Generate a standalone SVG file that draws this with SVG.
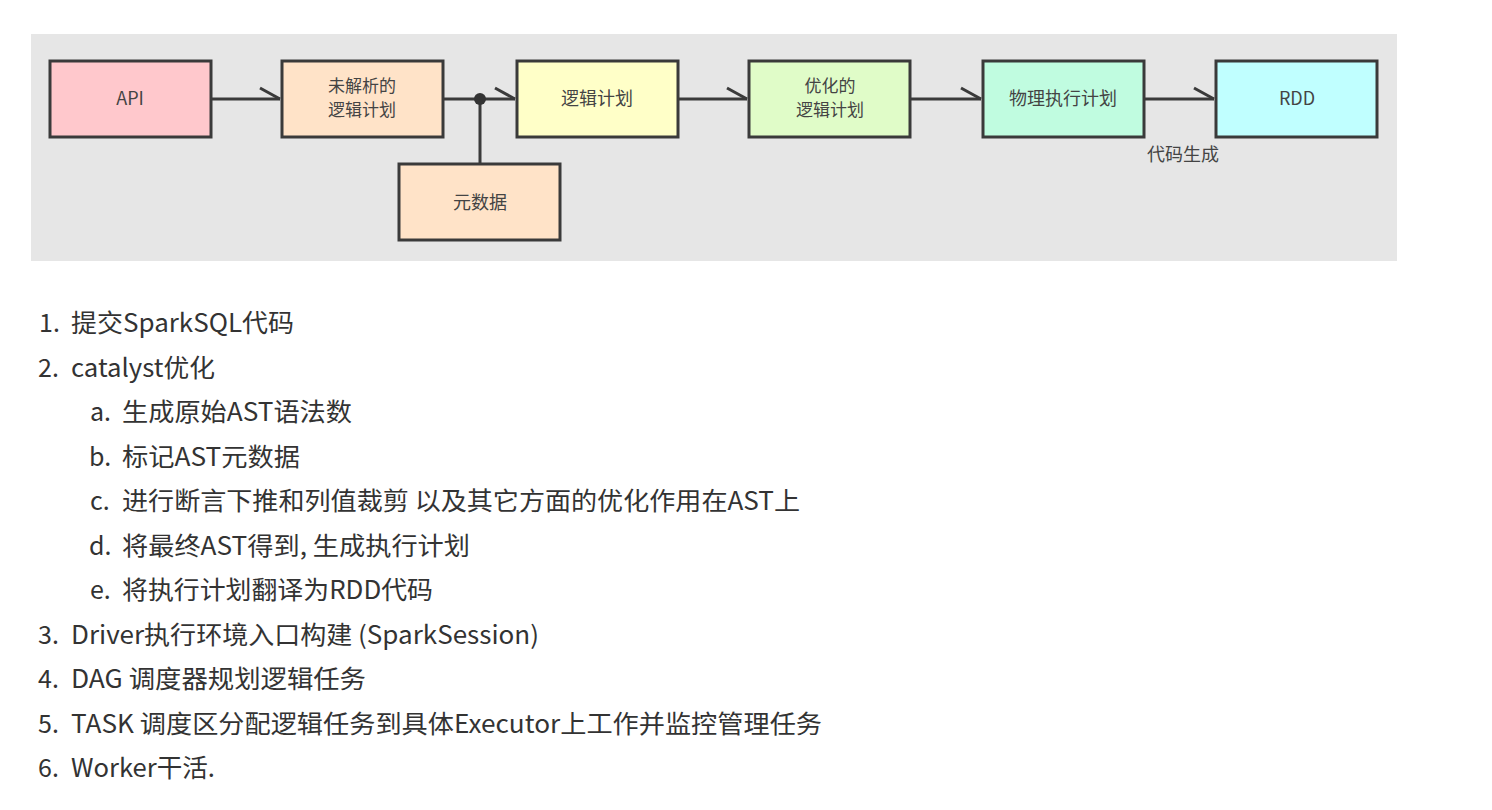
<svg xmlns="http://www.w3.org/2000/svg" width="1492" height="810" viewBox="0 0 1492 810">
<style>
.box{stroke:#3a3a3a;stroke-width:3}
.bl{font-family:"Noto Sans CJK SC","Noto Sans",sans-serif;font-size:18px;fill:#444;text-anchor:middle}
.b2{font-size:17px}
.ln{stroke:#3a3a3a;stroke-width:3;fill:none}
.tx{font-family:"Noto Sans CJK SC","Noto Sans",sans-serif;font-size:25px;fill:#333}
</style>
<defs>
<marker id="half" markerUnits="userSpaceOnUse" markerWidth="26" markerHeight="18" refX="22" refY="13" orient="auto" overflow="visible">
<path d="M2,2 L22,13" stroke="#3a3a3a" stroke-width="3" fill="none"/>
</marker>
</defs>
<rect width="1492" height="810" fill="#ffffff"/>
<rect x="31" y="34" width="1366" height="227" fill="#e6e6e6"/>
<g id="connectors">
<line class="ln" x1="211" y1="99" x2="280" y2="99" marker-end="url(#half)"/>
<line class="ln" x1="443" y1="99" x2="515" y2="99" marker-end="url(#half)"/>
<line class="ln" x1="678" y1="99" x2="747" y2="99" marker-end="url(#half)"/>
<line class="ln" x1="910" y1="99" x2="981" y2="99" marker-end="url(#half)"/>
<line class="ln" x1="1144" y1="99" x2="1214" y2="99" marker-end="url(#half)"/>
<line class="ln" x1="480" y1="164" x2="480" y2="99"/>
<circle cx="480" cy="99" r="6" fill="#333"/>
<text class="bl" x="1183" y="161" font-size="17">代码生成</text>
</g>
<g id="api"><rect class="box" x="50" y="61" width="161" height="76" fill="#ffc8cc"/><text class="bl" x="130" y="105">API</text></g>
<g id="unresolved"><rect class="box" x="282" y="61" width="161" height="76" fill="#ffe3c8"/><text class="bl b2" x="362" y="92">未解析的</text><text class="bl b2" x="362" y="116">逻辑计划</text></g>
<g id="logical"><rect class="box" x="517" y="61" width="161" height="76" fill="#ffffc8"/><text class="bl" x="597" y="105">逻辑计划</text></g>
<g id="optimized"><rect class="box" x="749" y="61" width="161" height="76" fill="#e0fcc8"/><text class="bl b2" x="830" y="92">优化的</text><text class="bl b2" x="830" y="116">逻辑计划</text></g>
<g id="physical"><rect class="box" x="983" y="61" width="161" height="76" fill="#c0fce0"/><text class="bl" x="1063" y="105">物理执行计划</text></g>
<g id="rdd"><rect class="box" x="1216" y="61" width="161" height="76" fill="#c0ffff"/><text class="bl" x="1297" y="105">RDD</text></g>
<g id="metadata"><rect class="box" x="399" y="164" width="161" height="76" fill="#ffe3c8"/><text class="bl" x="480" y="209">元数据</text></g>
<g id="list">
<text class="tx" x="39" y="332">1.</text><text class="tx" x="71" y="332" textLength="223" lengthAdjust="spacingAndGlyphs">提交SparkSQL代码</text>
<text class="tx" x="38" y="377">2.</text><text class="tx" x="71" y="377" textLength="144" lengthAdjust="spacingAndGlyphs">catalyst优化</text>
<text class="tx" x="90" y="421">a.</text><text class="tx" x="122" y="421" textLength="230" lengthAdjust="spacingAndGlyphs">生成原始AST语法数</text>
<text class="tx" x="89" y="466">b.</text><text class="tx" x="122" y="466" textLength="178" lengthAdjust="spacingAndGlyphs">标记AST元数据</text>
<text class="tx" x="90" y="510">c.</text><text class="tx" x="122" y="510" textLength="678" lengthAdjust="spacingAndGlyphs">进行断言下推和列值裁剪 以及其它方面的优化作用在AST上</text>
<text class="tx" x="89" y="555">d.</text><text class="tx" x="122" y="555" textLength="348" lengthAdjust="spacingAndGlyphs">将最终AST得到, 生成执行计划</text>
<text class="tx" x="90" y="599">e.</text><text class="tx" x="122" y="599" textLength="311" lengthAdjust="spacingAndGlyphs">将执行计划翻译为RDD代码</text>
<text class="tx" x="38" y="644">3.</text><text class="tx" x="71" y="644" textLength="468" lengthAdjust="spacingAndGlyphs">Driver执行环境入口构建 (SparkSession)</text>
<text class="tx" x="38" y="688">4.</text><text class="tx" x="71" y="688" textLength="295" lengthAdjust="spacingAndGlyphs">DAG 调度器规划逻辑任务</text>
<text class="tx" x="38" y="733">5.</text><text class="tx" x="71" y="733" textLength="751" lengthAdjust="spacingAndGlyphs">TASK 调度区分配逻辑任务到具体Executor上工作并监控管理任务</text>
<text class="tx" x="38" y="777">6.</text><text class="tx" x="71" y="777" textLength="144" lengthAdjust="spacingAndGlyphs">Worker干活.</text>
</g>
</svg>
